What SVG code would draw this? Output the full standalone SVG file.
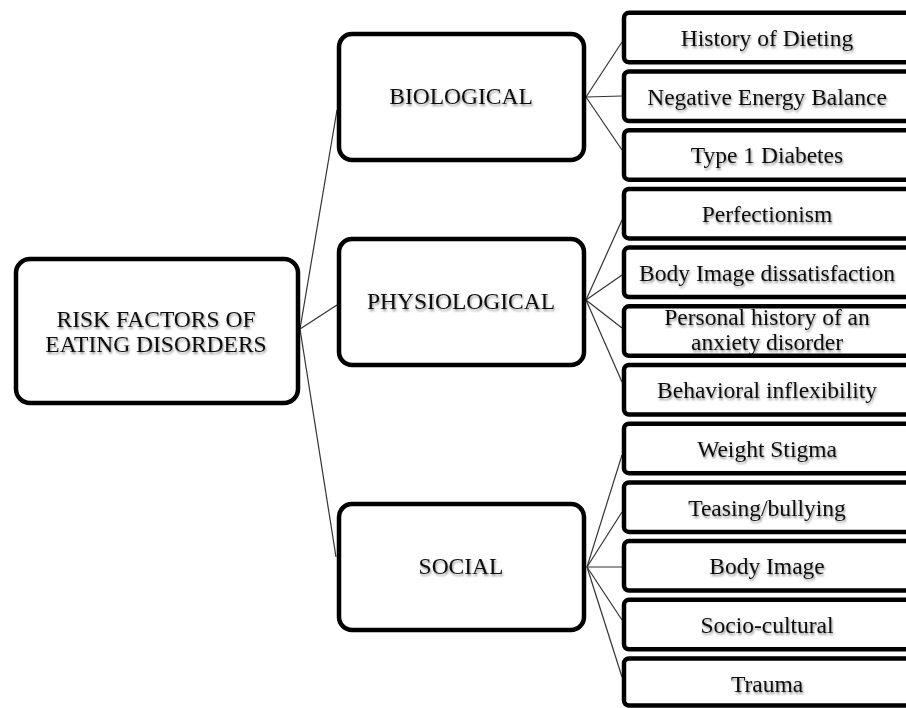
<svg xmlns="http://www.w3.org/2000/svg" width="906" height="708" viewBox="0 0 906 708">
<defs>
<filter id="ts" x="-10%" y="-30%" width="120%" height="160%">
<feGaussianBlur in="SourceAlpha" stdDeviation="1"/>
<feOffset dx="1" dy="1.5" result="b"/>
<feComponentTransfer><feFuncA type="linear" slope="0.45"/></feComponentTransfer>
<feMerge><feMergeNode/><feMergeNode in="SourceGraphic"/></feMerge>
</filter>
</defs>
<style>
.box{fill:#fff;stroke:#000;stroke-width:4.5}
.leaf{fill:#fff;stroke:#000;stroke-width:4.5}
text{font-family:"Liberation Serif","Times New Roman",serif;font-size:23.5px;fill:#111;text-anchor:middle;filter:url(#ts)}
.conn line{stroke:#333;stroke-width:1.2}
</style>
<rect width="906" height="708" fill="#fff"/>
<g id="connectors" class="conn">
<line x1="300" y1="329" x2="337" y2="110"/>
<line x1="300" y1="329" x2="337" y2="305"/>
<line x1="300" y1="329" x2="336" y2="557"/>
<line x1="586" y1="97" x2="622" y2="42"/>
<line x1="586" y1="97" x2="622" y2="96"/>
<line x1="586" y1="97" x2="622" y2="150"/>
<line x1="586" y1="300" x2="622" y2="220"/>
<line x1="586" y1="300" x2="622" y2="275"/>
<line x1="586" y1="300" x2="622" y2="328"/>
<line x1="586" y1="300" x2="622" y2="382"/>
<line x1="587" y1="567" x2="622" y2="455"/>
<line x1="587" y1="567" x2="622" y2="512"/>
<line x1="587" y1="567" x2="622" y2="567"/>
<line x1="587" y1="567" x2="622" y2="620"/>
<line x1="587" y1="567" x2="622" y2="677"/>
</g>
<g id="root"><rect class="box" x="16" y="259" width="282" height="144" rx="14"/>
<text x="156" y="327">RISK FACTORS OF</text><text x="156" y="352">EATING DISORDERS</text></g>
<g id="biological"><rect class="box" x="339" y="34" width="245" height="126" rx="13"/><text x="461" y="104">BIOLOGICAL</text></g>
<g id="physiological"><rect class="box" x="339" y="239" width="245" height="126" rx="13"/><text x="461" y="309">PHYSIOLOGICAL</text></g>
<g id="social"><rect class="box" x="339" y="504" width="245" height="126" rx="13"/><text x="461" y="574">SOCIAL</text></g>
<g id="leaf1"><rect class="leaf" x="624" y="12.8" width="290" height="49.5" rx="5"/><text x="767" y="46">History of Dieting</text></g>
<g id="leaf2"><rect class="leaf" x="624" y="71.5" width="290" height="49.5" rx="5"/><text x="767" y="104.7">Negative Energy Balance</text></g>
<g id="leaf3"><rect class="leaf" x="624" y="130.2" width="290" height="49.5" rx="5"/><text x="767" y="163.4">Type 1 Diabetes</text></g>
<g id="leaf4"><rect class="leaf" x="624" y="188.9" width="290" height="49.5" rx="5"/><text x="767" y="222.1">Perfectionism</text></g>
<g id="leaf5"><rect class="leaf" x="624" y="247.6" width="290" height="49.5" rx="5"/><text x="767" y="280.8">Body Image dissatisfaction</text></g>
<g id="leaf6"><rect class="leaf" x="624" y="306.3" width="290" height="49.5" rx="5"/><text x="767" y="325">Personal history of an</text><text x="767" y="350">anxiety disorder</text></g>
<g id="leaf7"><rect class="leaf" x="624" y="365" width="290" height="49.5" rx="5"/><text x="767" y="398.2">Behavioral inflexibility</text></g>
<g id="leaf8"><rect class="leaf" x="624" y="423.7" width="290" height="49.5" rx="5"/><text x="767" y="456.9">Weight Stigma</text></g>
<g id="leaf9"><rect class="leaf" x="624" y="482.4" width="290" height="49.5" rx="5"/><text x="767" y="515.6">Teasing/bullying</text></g>
<g id="leaf10"><rect class="leaf" x="624" y="541.1" width="290" height="49.5" rx="5"/><text x="767" y="574.3">Body Image</text></g>
<g id="leaf11"><rect class="leaf" x="624" y="599.8" width="290" height="49.5" rx="5"/><text x="767" y="633">Socio-cultural</text></g>
<g id="leaf12"><rect class="leaf" x="624" y="658.5" width="290" height="47" rx="5"/><text x="767" y="691.7">Trauma</text></g>
</svg>
